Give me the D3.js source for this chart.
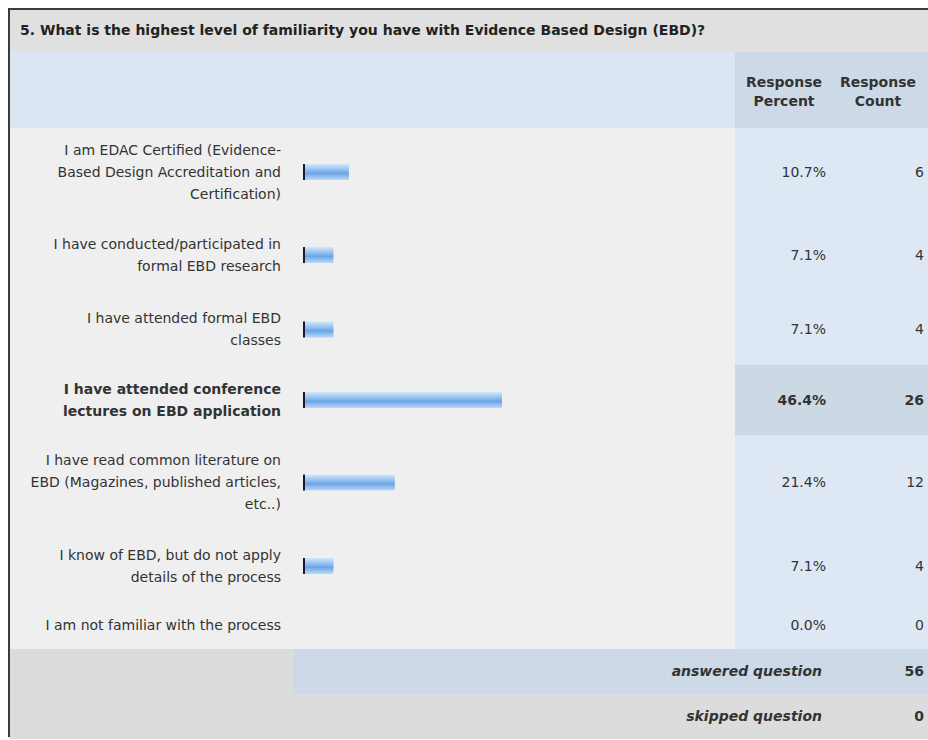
<!DOCTYPE html>
<html>
<head>
<meta charset="utf-8">
<script src="https://cdn.jsdelivr.net/npm/d3@7"></script>
<style>
body { margin: 0; background: #fff; }
text { font-family: "DejaVu Sans", Verdana, sans-serif; fill: #333; font-size: 14px; }
</style>
</head>
<body>
<script>
const question = "5. What is the highest level of familiarity you have with Evidence Based Design (EBD)?";
const answers = [
  ["I am EDAC Certified (Evidence-", "Based Design Accreditation and", "Certification)"],
  ["I have conducted/participated in", "formal EBD research"],
  ["I have attended formal EBD", "classes"],
  ["I have attended conference", "lectures on EBD application"],
  ["I have read common literature on", "EBD (Magazines, published articles,", "etc..)"],
  ["I know of EBD, but do not apply", "details of the process"],
  ["I am not familiar with the process"]
];
const percents = [10.7, 7.1, 7.1, 46.4, 21.4, 7.1, 0.0];
const counts = [6, 4, 4, 26, 12, 4, 0];
const headers = [["Response", "Percent"], ["Response", "Count"]];
const totals = [["answered question", 56], ["skipped question", 0]];

const W = 928, H = 740;
const m = {left: 9, top: 9};
const titleH = 43, headH = 76;
const rowH = [88, 78, 71, 70, 95, 72, 47];
const footH = 45;
const splitX = 735;      // where the blue value columns start
const labelX = 281;      // right edge of answer text
const pctX = 826, cntX = 924;
const lineH = 22;

const svg = d3.select("body").append("svg")
  .attr("width", W).attr("height", H);

const defs = svg.append("defs");
const grad = defs.append("linearGradient")
  .attr("id", "barg").attr("x1", 0).attr("x2", 0).attr("y1", 0).attr("y2", 1);
grad.append("stop").attr("offset", "0%").attr("stop-color", "#d3e7fb");
grad.append("stop").attr("offset", "40%").attr("stop-color", "#8dbcef");
grad.append("stop").attr("offset", "58%").attr("stop-color", "#6aa4e6");
grad.append("stop").attr("offset", "100%").attr("stop-color", "#bcd9f8");

// row geometry
const bodyTop = m.top + titleH + headH;
const rowTops = [bodyTop, ...d3.cumsum(rowH).map(d => bodyTop + d)];
const maxIdx = d3.maxIndex(percents);

const x = d3.scaleLinear().domain([0, 100]).range([303, 732]);

// title band
svg.append("rect").attr("x", m.left).attr("y", m.top).attr("width", W - m.left).attr("height", titleH)
  .attr("fill", "#e0e0e0");
svg.append("text").attr("x", 20).attr("y", m.top + titleH / 2).attr("dy", "0.35em")
  .style("font-weight", "bold").style("fill", "#222")
  .text(question);

// header band
const headTop = m.top + titleH;
svg.append("rect").attr("x", m.left).attr("y", headTop).attr("width", splitX - m.left).attr("height", headH)
  .attr("fill", "#dce6f2");
svg.append("rect").attr("x", splitX).attr("y", headTop).attr("width", W - splitX).attr("height", headH)
  .attr("fill", "#cdd9e7");
[pctX - 42, cntX - 46].forEach((cx, i) => {
  headers[i].forEach((t, j) => {
    svg.append("text").attr("x", cx).attr("y", headTop + 36 + (j - 0.5) * 19 + 4).attr("dy", "0.35em")
      .attr("text-anchor", "middle")
      .style("font-weight", "bold")
      .text(t);
  });
});

// rows
const rows = svg.append("g").selectAll("g").data(answers).join("g");
rows.append("rect").attr("x", m.left).attr("y", (d, i) => rowTops[i])
  .attr("width", splitX - m.left).attr("height", (d, i) => rowH[i]).attr("fill", "#efefef");
rows.append("rect").attr("x", splitX).attr("y", (d, i) => rowTops[i])
  .attr("width", W - splitX).attr("height", (d, i) => rowH[i])
  .attr("fill", (d, i) => i === maxIdx ? "#cdd8e5" : "#dde8f4");

rows.each(function(lines, i) {
  const g = d3.select(this);
  const cy = rowTops[i] + rowH[i] / 2;
  const bold = i === maxIdx;
  lines.forEach((t, j) => {
    g.append("text").attr("x", labelX).attr("y", cy + (j - (lines.length - 1) / 2) * lineH)
      .attr("dy", "0.35em").attr("text-anchor", "end")
      .style("font-weight", bold ? "bold" : "normal")
      .text(t);
  });
  if (percents[i] > 0) {
    g.append("rect").attr("x", x(0)).attr("y", cy - 8)
      .attr("width", x(percents[i]) - x(0)).attr("height", 16)
      .attr("fill", "url(#barg)");
    g.append("line").attr("x1", x(0) + 1).attr("x2", x(0) + 1).attr("y1", cy - 8).attr("y2", cy + 8)
      .attr("stroke", "#1a1a2a").attr("stroke-width", 2);
  }
  g.append("text").attr("x", pctX).attr("y", cy).attr("dy", "0.35em").attr("text-anchor", "end")
    .style("font-weight", bold ? "bold" : "normal")
    .text(percents[i].toFixed(1) + "%");
  g.append("text").attr("x", cntX).attr("y", cy).attr("dy", "0.35em").attr("text-anchor", "end")
    .style("font-weight", bold ? "bold" : "normal")
    .text(counts[i]);
});

// footer
const footTop = rowTops[rowTops.length - 1];
svg.append("rect").attr("x", m.left).attr("y", footTop).attr("width", W - m.left).attr("height", footH * 2)
  .attr("fill", "#dcdcdc");
svg.append("rect").attr("x", 293).attr("y", footTop).attr("width", W - 293).attr("height", footH)
  .attr("fill", "#cdd9e7");
totals.forEach((t, i) => {
  const cy = footTop + footH * i + footH / 2;
  svg.append("text").attr("x", pctX - 4).attr("y", cy).attr("dy", "0.35em").attr("text-anchor", "end")
    .style("font-weight", "bold").style("font-style", "italic")
    .text(t[0]);
  svg.append("text").attr("x", cntX).attr("y", cy).attr("dy", "0.35em").attr("text-anchor", "end")
    .style("font-weight", "bold")
    .text(t[1]);
});

// outer frame (top and left edges visible)
svg.append("path").attr("d", `M${m.left},${H - 3}V${m.top}H${W}`)
  .attr("fill", "none").attr("stroke", "#3c3c3c").attr("stroke-width", 2);
</script>
</body>
</html>
